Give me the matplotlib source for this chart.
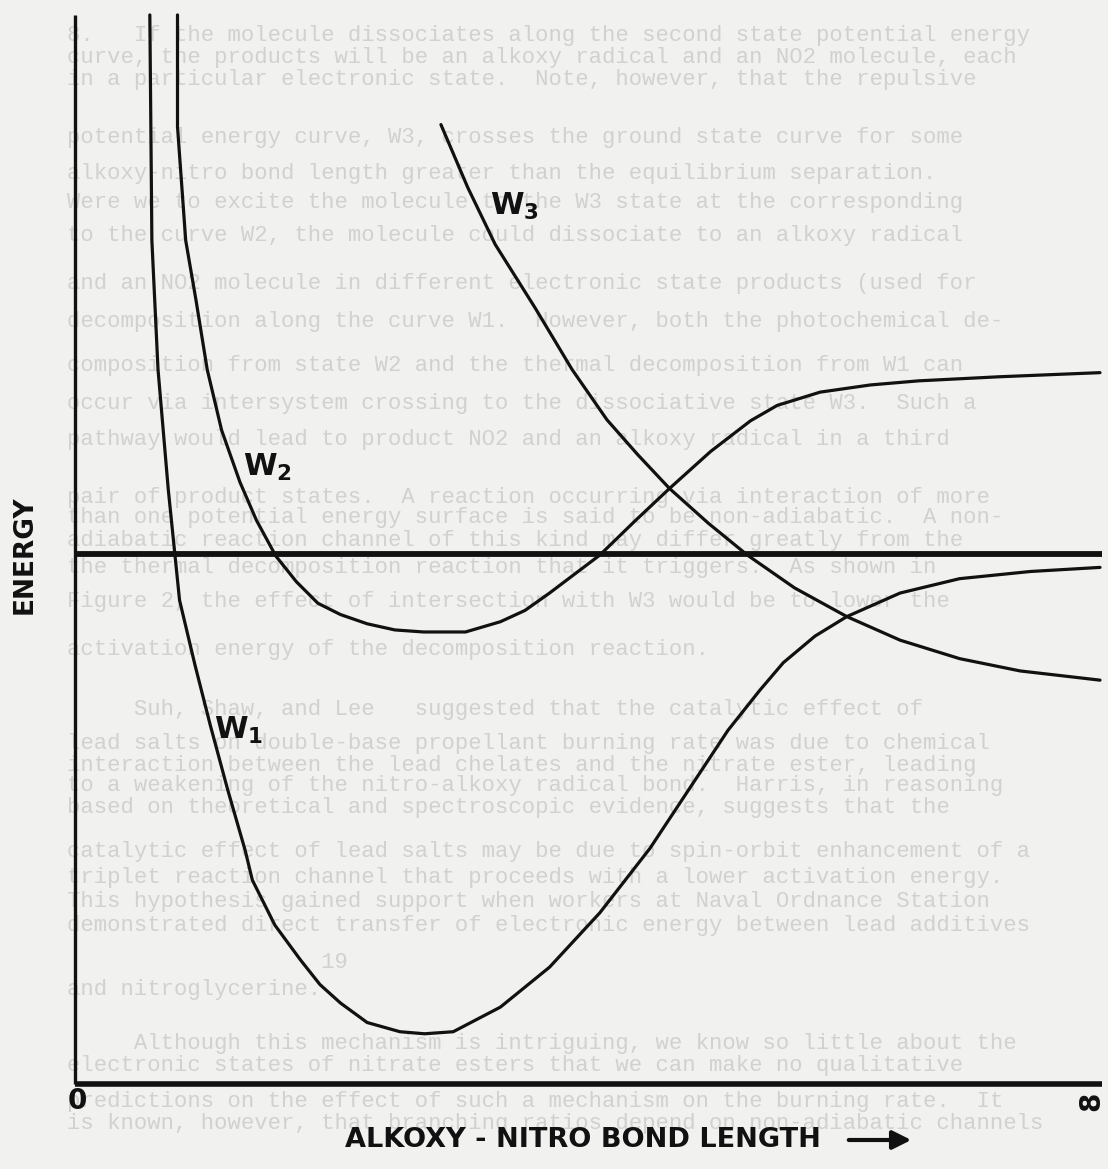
import matplotlib.pyplot as plt

# potential energy curves, bond length r (axis units) vs energy E
w1_r = [0.73, 0.74, 0.75, 0.81, 0.91, 1.02, 1.17, 1.32, 1.49, 1.66, 1.73, 1.95, 2.20, 2.39, 2.59,
        2.85, 3.17, 3.41, 3.69, 4.15, 4.63, 5.12, 5.61, 6.00, 6.37, 6.68, 6.91, 7.22, 7.53, 8.05,
        8.63, 9.32, 10.0]
w1_E = [10.43, 9.34, 8.23, 6.97, 5.80, 4.72, 4.09, 3.50, 2.87, 2.28, 1.99, 1.55, 1.21, 0.97, 0.79,
        0.60, 0.51, 0.49, 0.51, 0.75, 1.14, 1.67, 2.30, 2.89, 3.45, 3.84, 4.11, 4.37, 4.56, 4.79,
        4.93, 5.00, 5.04]

w2_r = [1.00, 1.00, 1.08, 1.18, 1.29, 1.43, 1.61, 1.77, 1.96, 2.16, 2.37, 2.59, 2.85, 3.12, 3.40,
        3.81, 4.15, 4.39, 4.63, 5.12, 5.46, 5.80, 6.20, 6.59, 6.85, 7.27, 7.76, 8.23, 9.02, 10.0]
w2_E = [10.43, 9.34, 8.23, 7.65, 6.97, 6.38, 5.87, 5.50, 5.15, 4.90, 4.69, 4.58, 4.49, 4.43, 4.41,
        4.41, 4.51, 4.62, 4.79, 5.16, 5.49, 5.81, 6.17, 6.47, 6.62, 6.75, 6.82, 6.86, 6.90, 6.94]

w3_r = [3.57, 3.83, 4.10, 4.49, 4.85, 5.19, 5.49, 5.80, 6.18, 6.56, 7.02, 7.53, 8.05, 8.63, 9.22, 10.0]
w3_E = [9.36, 8.75, 8.19, 7.57, 6.97, 6.48, 6.14, 5.81, 5.47, 5.16, 4.84, 4.56, 4.33, 4.15, 4.03, 3.94]

dissociation_E = 5.17
axis_top = 10.43
axis_end = 10.02

labels = [r'$\mathbf{W}_{\mathbf{1}}$', r'$\mathbf{W}_{\mathbf{2}}$', r'$\mathbf{W}_{\mathbf{3}}$']
label_r = [1.60, 1.88, 4.29]
label_E = [3.45, 6.02, 8.56]

# faint text from the facing page showing through the scan
bleed_y = [35, 57, 79, 137, 173, 202, 235, 283, 322, 365, 403, 440, 497, 518, 540, 568, 601, 650,
           710, 743, 765, 786, 807, 852, 877, 902, 925, 963, 990, 1043, 1066, 1101, 1123]
bleed_lines = [
    "8.   If the molecule dissociates along the second state potential energy",
    "curve, the products will be an alkoxy radical and an NO2 molecule, each",
    "in a particular electronic state.  Note, however, that the repulsive",
    "potential energy curve, W3, crosses the ground state curve for some",
    "alkoxy-nitro bond length greater than the equilibrium separation.",
    "Were we to excite the molecule to the W3 state at the corresponding",
    "to the curve W2, the molecule could dissociate to an alkoxy radical",
    "and an NO2 molecule in different electronic state products (used for",
    "decomposition along the curve W1.  However, both the photochemical de-",
    "composition from state W2 and the thermal decomposition from W1 can",
    "occur via intersystem crossing to the dissociative state W3.  Such a",
    "pathway would lead to product NO2 and an alkoxy radical in a third",
    "pair of product states.  A reaction occurring via interaction of more",
    "than one potential energy surface is said to be non-adiabatic.  A non-",
    "adiabatic reaction channel of this kind may differ greatly from the",
    "the thermal decomposition reaction that it triggers.  As shown in",
    "Figure 2, the effect of intersection with W3 would be to lower the",
    "activation energy of the decomposition reaction.",
    "     Suh, Shaw, and Lee   suggested that the catalytic effect of",
    "lead salts on double-base propellant burning rate was due to chemical",
    "interaction between the lead chelates and the nitrate ester, leading",
    "to a weakening of the nitro-alkoxy radical bond.  Harris, in reasoning",
    "based on theoretical and spectroscopic evidence, suggests that the",
    "catalytic effect of lead salts may be due to spin-orbit enhancement of a",
    "triplet reaction channel that proceeds with a lower activation energy.",
    "This hypothesis gained support when workers at Naval Ordnance Station",
    "demonstrated direct transfer of electronic energy between lead additives",
    "                   19",
    "and nitroglycerine.",
    "     Although this mechanism is intriguing, we know so little about the",
    "electronic states of nitrate esters that we can make no qualitative",
    "predictions on the effect of such a mechanism on the burning rate.  It",
    "is known, however, that branching ratios depend on non-adiabatic channels",
]

W, H = 1108, 1169
ox, oy, unit = 75, 1084, 102.5

fig = plt.figure(figsize=(W / 100, H / 100), dpi=100, facecolor='#f1f1ef')
ax = fig.add_axes([0, 0, 1, 1])
ax.set_xlim(-ox / unit, (W - ox) / unit)
ax.set_ylim(-(H - oy) / unit, oy / unit)
ax.axis('off')


def fpos(x, y):
    return x / W, 1 - y / H


for y, line in zip(bleed_y, bleed_lines):
    ax.text(*fpos(67, y), line, transform=fig.transFigure, family='Liberation Mono',
            fontsize=16, color='#d1d1cf', va='center', ha='left', zorder=0)

ink = '#111111'
ax.plot([0, 0], [0, axis_top], color=ink, lw=2.4, solid_capstyle='butt')
ax.plot([0, axis_end], [0, 0], color=ink, lw=4.0, solid_capstyle='butt')
ax.plot([0, axis_end], [dissociation_E, dissociation_E], color=ink, lw=4.2, solid_capstyle='butt')

for r, E in [(w1_r, w1_E), (w2_r, w2_E), (w3_r, w3_E)]:
    ax.plot(r, E, color=ink, lw=2.3, solid_joinstyle='round', solid_capstyle='round')

for lab, r, E in zip(labels, label_r, label_E):
    ax.text(r, E, lab, fontsize=22, ha='center', va='center', color=ink)

ax.text(*fpos(25, 555), 'ENERGY', transform=fig.transFigure, rotation=90, fontsize=19,
        weight='bold', ha='center', va='center', color=ink)
ax.text(*fpos(77, 1101), '0', transform=fig.transFigure, fontsize=20, weight='bold',
        ha='center', va='center', color=ink)
ax.text(*fpos(1091, 1101), '8', transform=fig.transFigure, rotation=90, fontsize=20,
        weight='bold', ha='center', va='center', color=ink)
ax.text(*fpos(345, 1140), 'ALKOXY - NITRO BOND LENGTH', transform=fig.transFigure,
        fontsize=19.5, weight='bold', ha='left', va='center', color=ink)
ax.annotate('', xy=fpos(914, 1140), xytext=fpos(846, 1140), xycoords='figure fraction',
            textcoords='figure fraction',
            arrowprops=dict(arrowstyle='-|>', lw=3, color=ink, mutation_scale=28))

fig.savefig('out.png', dpi=100, facecolor=fig.get_facecolor())
